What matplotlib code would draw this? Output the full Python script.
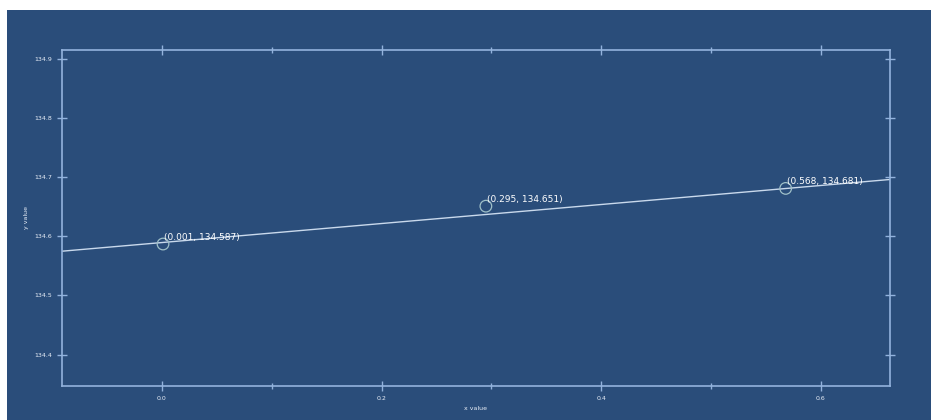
import matplotlib
matplotlib.use("Agg")
import matplotlib.pyplot as plt
from matplotlib.patches import Rectangle

# fitted line and the three annotated samples
line_x = [-0.091, 0.663]
intercept = 134.5895
slope = 0.1608
point_x = [0.001, 0.295, 0.568]
point_y = [134.587, 134.651, 134.681]
point_labels = ["(0.001, 134.587)", "(0.295, 134.651)", "(0.568, 134.681)"]

x_ticks = [0.0, 0.2, 0.4, 0.6]
x_minor = [0.1, 0.3, 0.5]
y_ticks = [134.4, 134.5, 134.6, 134.7, 134.8, 134.9]

bg = "#2a4d7a"
fg = "#93b3dd"
txt = "#e8eef7"

fig = plt.figure(figsize=(9.31, 4.2), dpi=100, facecolor="white")
fig.patches.append(Rectangle((7 / 931, 0), 1 - 7 / 931, 1 - 10 / 420,
                             transform=fig.transFigure, facecolor=bg,
                             edgecolor="none", zorder=-10))

ax = fig.add_axes([62 / 931, 1 - 386 / 420, (890 - 62) / 931, (386 - 50) / 420])
ax.set_facecolor(bg)

ly = [intercept + slope * x for x in line_x]
ax.plot(line_x, ly, color="#c9d9ec", lw=1.0, zorder=2)
ax.scatter(point_x, point_y, s=70, facecolors="none", edgecolors="#9fc0c8",
           linewidths=0.9, zorder=3)
for x, y, lab in zip(point_x, point_y, point_labels):
    ax.annotate(lab, (x, y), xytext=(1, 1.5), textcoords="offset points",
                color="white", fontsize=6.5, ha="left", va="bottom")

ax.set_xlim(line_x[0], line_x[1])
ax.set_ylim(134.347, 134.915)
ax.set_xticks(x_ticks)
ax.set_xticks(x_minor, minor=True)
ax.set_yticks(y_ticks)
ax.set_xticklabels([f"{v:.1f}" for v in x_ticks])
ax.set_yticklabels([f"{v:.1f}" for v in y_ticks])

for s in ax.spines.values():
    s.set_color(fg)
    s.set_linewidth(1.2)
ax.tick_params(which="both", colors=fg, labelcolor=txt, direction="inout",
               top=True, right=True, labelsize=4.5, width=1.0)
ax.tick_params(which="major", length=7)
ax.tick_params(which="minor", length=4)

ax.set_xlabel("x value", color=txt, fontsize=4.5, labelpad=4)
ax.set_ylabel("y value", color=txt, fontsize=4.5, labelpad=4)

fig.savefig("out.png", dpi=100, facecolor=fig.get_facecolor())
